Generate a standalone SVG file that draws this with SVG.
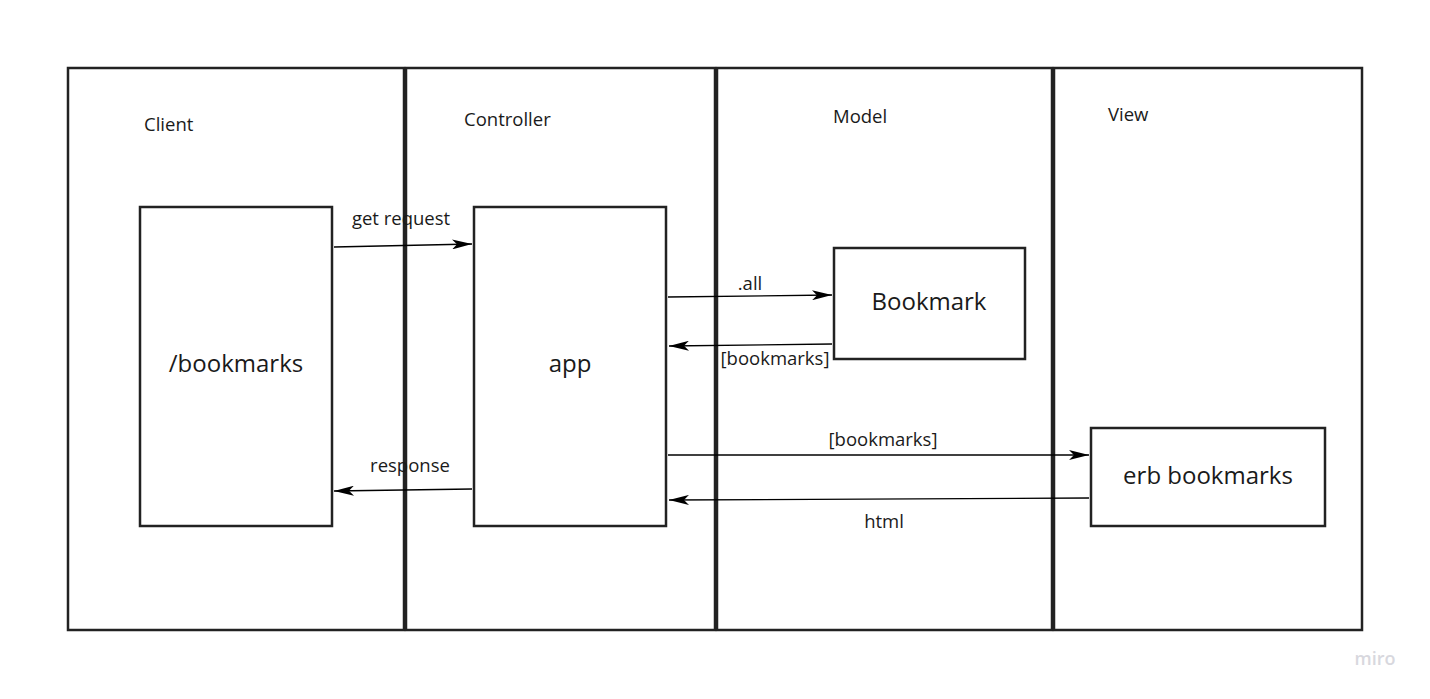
<svg xmlns="http://www.w3.org/2000/svg" width="1430" height="699" viewBox="0 0 1430 699">
<style>
.lane{fill:#fff;stroke:#222;stroke-width:2.5}
.box{fill:#fff;stroke:#222;stroke-width:2.5}
.t{font-family:"Open Sans","Liberation Sans",sans-serif;fill:#1a1a1a}
.lbl{font-size:18.5px}
.big{font-size:24px}
.c{stroke:#000;stroke-width:1.3;fill:none;marker-end:url(#ah)}
</style>
<defs>
<marker id="ah" viewBox="0 0 20 10" refX="20" refY="5" markerWidth="20" markerHeight="10" markerUnits="userSpaceOnUse" orient="auto">
<path d="M0,0 L20,5 L0,10 L5,5 Z" fill="#000"/>
</marker>
</defs>
<rect width="1430" height="699" fill="#fff"/>
<g id="lane-client">
<rect class="lane" x="68" y="68" width="336" height="562"/>
<text class="t lbl" x="144" y="131">Client</text>
</g>
<g id="lane-controller">
<rect class="lane" x="406" y="68" width="309" height="562"/>
<text class="t lbl" x="464" y="126">Controller</text>
</g>
<g id="lane-model">
<rect class="lane" x="717" y="68" width="335" height="562"/>
<text class="t lbl" x="833" y="123">Model</text>
</g>
<g id="lane-view">
<rect class="lane" x="1054" y="68" width="308" height="562"/>
<text class="t lbl" x="1108" y="121">View</text>
</g>
<g id="node-bookmarks">
<rect class="box" x="140" y="207" width="192" height="319"/>
<text class="t big" x="236" y="372" text-anchor="middle">/bookmarks</text>
</g>
<g id="node-app">
<rect class="box" x="474" y="207" width="192" height="319"/>
<text class="t big" x="570" y="372" text-anchor="middle">app</text>
</g>
<g id="node-bookmark">
<rect class="box" x="834" y="248" width="191" height="111"/>
<text class="t big" x="929" y="310" text-anchor="middle">Bookmark</text>
</g>
<g id="node-erb">
<rect class="box" x="1091" y="428" width="234" height="98"/>
<text class="t big" x="1208" y="484" text-anchor="middle">erb bookmarks</text>
</g>
<g id="connectors">
<path class="c" d="M334,247 L472,244"/>
<text class="t lbl" x="401" y="225" text-anchor="middle">get request</text>
<path class="c" d="M668,297 L832,295"/>
<text class="t lbl" x="750" y="290" text-anchor="middle">.all</text>
<path class="c" d="M832,344 L669,346"/>
<text class="t lbl" x="775" y="365" text-anchor="middle">[bookmarks]</text>
<path class="c" d="M668,455 L1089,455"/>
<text class="t lbl" x="883" y="446" text-anchor="middle">[bookmarks]</text>
<path class="c" d="M1089,498 L669,500"/>
<text class="t lbl" x="884" y="528" text-anchor="middle">html</text>
<path class="c" d="M472,489 L334,491"/>
<text class="t lbl" x="410" y="472" text-anchor="middle">response</text>
</g>
<text class="t" x="1375" y="665" text-anchor="middle" font-size="18" font-weight="600" style="fill:#d8d8de">miro</text>
</svg>
